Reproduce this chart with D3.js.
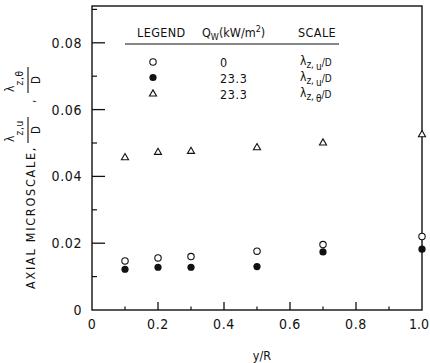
<!DOCTYPE html>
<html>
<head>
<meta charset="utf-8">
<script src="https://cdn.jsdelivr.net/npm/d3@7/dist/d3.min.js"></script>
<style>
  html, body { margin: 0; padding: 0; background: #fff; }
  svg { display: block; }
  text { font-family: "Liberation Sans Narrow", "DejaVu Sans Condensed", "Liberation Sans", sans-serif; fill: #111; }
</style>
</head>
<body>
<svg id="chart" width="430" height="363"></svg>
<script>
// Radial positions y/R
const yR = [0.1, 0.2, 0.3, 0.5, 0.7, 1.0];
// lambda_z,u / D at Qw = 0 (open circles)
const lamU0 = [0.0147, 0.0156, 0.0160, 0.0176, 0.0196, 0.0220];
// lambda_z,u / D at Qw = 23.3 kW/m2 (filled circles)
const lamUHeat = [0.0122, 0.0128, 0.0128, 0.0130, 0.0174, 0.0182];
// lambda_z,theta / D at Qw = 23.3 kW/m2 (triangles)
const lamTHeat = [0.0456, 0.0472, 0.0475, 0.0486, 0.0500, 0.0525];

const xTicks = [0, 0.2, 0.4, 0.6, 0.8, 1.0];
const xTickLabels = ["0", "0.2", "0.4", "0.6", "0.8", "1.0"];
const yTicks = [0, 0.02, 0.04, 0.06, 0.08];
const yTickLabels = ["0", "0.02", "0.04", "0.06", "0.08"];

const legendQw = ["0", "23.3", "23.3"];

const svg = d3.select("#chart");
const plotL = 92, plotR = 422, plotT = 6, plotB = 310;

const x = d3.scaleLinear().domain([0, 1.0]).range([plotL, plotR]);
const y = d3.scaleLinear().domain([0, 0.02]).range([plotB, plotB - 66.8]);
const yTop = y.invert(plotT);

const ink = "#111";

// frame
svg.append("rect")
  .attr("x", plotL).attr("y", plotT)
  .attr("width", plotR - plotL).attr("height", plotB - plotT)
  .attr("fill", "none").attr("stroke", ink).attr("stroke-width", 1.4);

// y ticks (inside, major every 0.02, minor every 0.01)
const yMinor = d3.range(0.01, yTop, 0.02);
svg.append("g").selectAll("line").data(yTicks.slice(1)).join("line")
  .attr("x1", plotL).attr("x2", plotL + 13)
  .attr("y1", d => y(d)).attr("y2", d => y(d))
  .attr("stroke", ink).attr("stroke-width", 1.3);
svg.append("g").selectAll("line").data(yMinor).join("line")
  .attr("x1", plotL).attr("x2", plotL + 5)
  .attr("y1", d => y(d)).attr("y2", d => y(d))
  .attr("stroke", ink).attr("stroke-width", 1.2);

// x ticks (inside, major every 0.2, minor every 0.1)
const xMinor = d3.range(0.1, 1.0, 0.2);
svg.append("g").selectAll("line").data(xTicks.slice(1, -1)).join("line")
  .attr("x1", d => x(d)).attr("x2", d => x(d))
  .attr("y1", plotB).attr("y2", plotB - 8)
  .attr("stroke", ink).attr("stroke-width", 1.3);
svg.append("g").selectAll("line").data(xMinor).join("line")
  .attr("x1", d => x(d)).attr("x2", d => x(d))
  .attr("y1", plotB).attr("y2", plotB - 3.5)
  .attr("stroke", ink).attr("stroke-width", 1.2);

// tick labels
svg.append("g").selectAll("text").data(yTicks).join("text")
  .attr("x", 82).attr("y", d => y(d) + 5)
  .attr("text-anchor", "end")
  .attr("font-size", 14).attr("letter-spacing", 0.6)
  .text((d, i) => yTickLabels[i]);
// the last x label sits against the right edge, so it is end-anchored to stay inside
svg.append("g").selectAll("text").data(xTicks).join("text")
  .attr("x", (d, i) => i === xTicks.length - 1 ? 429 : x(d)).attr("y", 329)
  .attr("text-anchor", (d, i) => i === xTicks.length - 1 ? "end" : "middle")
  .attr("font-size", 14)
  .attr("letter-spacing", (d, i) => i === xTicks.length - 1 ? 0 : 0.6)
  .text((d, i) => xTickLabels[i]);

// x axis title
svg.append("text").attr("x", 262).attr("y", 360)
  .attr("text-anchor", "middle").attr("font-size", 12.5)
  .text("y/R");

// y axis title, rotated
const yt = svg.append("g").attr("transform", "rotate(-90)");
yt.append("text").attr("x", -289).attr("y", 35)
  .attr("font-size", 12.5).attr("letter-spacing", 1.75)
  .text("AXIAL MICROSCALE,");
function vFraction(cy, sub) {
  // numerator lambda with subscripts, bar, denominator D
  const t = yt.append("text").attr("x", -cy - 12).attr("y", 14).attr("font-size", 12);
  t.append("tspan").text("λ");
  t.append("tspan").attr("dy", 9).attr("font-size", 10).attr("letter-spacing", 0.8).text(sub);
  yt.append("line").attr("x1", -cy - 13).attr("x2", -cy + 13)
    .attr("y1", 28).attr("y2", 28).attr("stroke", ink).attr("stroke-width", 1.1);
  yt.append("text").attr("x", -cy).attr("y", 39.5).attr("text-anchor", "middle")
    .attr("font-size", 11.5).text("D");
}
vFraction(130, "z,u");
vFraction(80, "z,θ");
yt.append("text").attr("x", -103).attr("y", 35).attr("font-size", 12).text(",");

// data marks
const r = 3.2;
svg.append("g").selectAll("circle").data(yR).join("circle")
  .attr("cx", d => x(d)).attr("cy", (d, i) => y(lamU0[i])).attr("r", r)
  .attr("fill", "#fff").attr("stroke", ink).attr("stroke-width", 1.1);
svg.append("g").selectAll("circle").data(yR).join("circle")
  .attr("cx", d => x(d)).attr("cy", (d, i) => y(lamUHeat[i])).attr("r", 3.6)
  .attr("fill", ink);
const tri = d3.symbol().type(d3.symbolTriangle).size(22);
svg.append("g").selectAll("path").data(yR).join("path")
  .attr("transform", (d, i) => `translate(${x(d)},${y(lamTHeat[i])})`)
  .attr("d", tri).attr("fill", "#fff").attr("stroke", ink).attr("stroke-width", 1.1);

// legend
const lg = svg.append("g");
lg.append("text").attr("x", 137).attr("y", 37).attr("font-size", 12.5).attr("letter-spacing", 0.4).text("LEGEND");
const qh = lg.append("text").attr("x", 202).attr("y", 37).attr("font-size", 12.5);
qh.append("tspan").text("Q");
qh.append("tspan").attr("dy", 3).attr("font-size", 9).text("W");
qh.append("tspan").attr("dy", -3).text("(kW/m");
qh.append("tspan").attr("dy", -5).attr("font-size", 9).text("2");
qh.append("tspan").attr("dy", 5).text(")");
lg.append("text").attr("x", 298).attr("y", 37).attr("font-size", 12.5).attr("letter-spacing", 0.4).text("SCALE");
lg.append("line").attr("x1", 125).attr("x2", 339).attr("y1", 44).attr("y2", 44)
  .attr("stroke", ink).attr("stroke-width", 1.2);

const rowY = [62, 77.5, 94];
const symX = 153;
lg.append("circle").attr("cx", symX).attr("cy", rowY[0]).attr("r", r)
  .attr("fill", "#fff").attr("stroke", ink).attr("stroke-width", 1.1);
lg.append("circle").attr("cx", symX).attr("cy", rowY[1]).attr("r", 3.6).attr("fill", ink);
lg.append("path").attr("transform", `translate(${symX},${rowY[2]})`).attr("d", tri)
  .attr("fill", "#fff").attr("stroke", ink).attr("stroke-width", 1.1);

lg.selectAll("text.q").data(legendQw).join("text").attr("class", "q")
  .attr("x", 220).attr("y", (d, i) => rowY[i] + 5)
  .attr("font-size", 12.5).attr("letter-spacing", 0.6).text(d => d);

const scaleSubs = ["u", "u", "θ"];
scaleSubs.forEach((s, i) => {
  const t = lg.append("text").attr("x", 300).attr("y", rowY[i] + 3).attr("font-size", 12);
  t.append("tspan").text("λ");
  t.append("tspan").attr("dy", 3).attr("font-size", 10).text("z,");
  t.append("tspan").attr("dx", 2).attr("dy", 2).attr("font-size", 10).text(s);
  t.append("tspan").attr("dy", -4).attr("font-size", 10).text("/D");
});
</script>
</body>
</html>
